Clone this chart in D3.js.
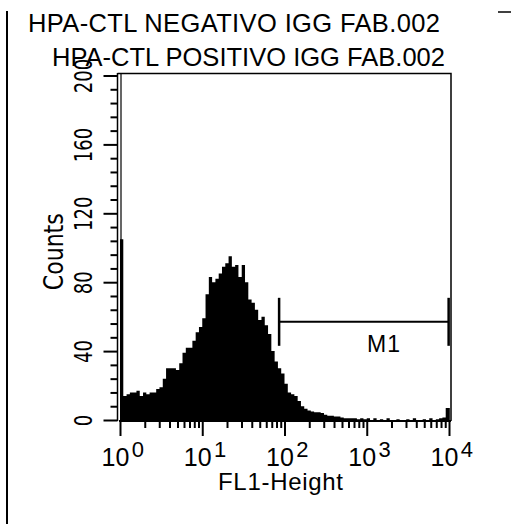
<!DOCTYPE html>
<html><head><meta charset="utf-8">
<script src="https://cdn.jsdelivr.net/npm/d3@7"></script>
<style>body{margin:0;background:#fff} svg{display:block}</style>
</head><body>
<script>
// ---- data ----
const titles = ["HPA-CTL NEGATIVO IGG FAB.002", "HPA-CTL POSITIVO IGG FAB.002"];
// counts per bin, 100 equal log-width bins from 10^0 to 10^4
const binCounts = [
 105,14,15,16,16,17,14,16,15,16,
 16,18,19,24,30,30,30,29,33,39,
 42,42,46,51,54,59,73,83,80,82,
 85,89,91,95,89,90,83,90,80,70,
 68,64,58,60,55,50,40,34,30,27,
 21,16,15,14,11,8,6.5,5.5,5,4.5,
 4.5,4,3,2.5,2.5,2,2,1.5,1,1,
 1,1,0.5,1,0.5,1,0,1,0,0.5,
 0,1,0,0,0.5,0,0,0.5,0,1,
 0,0,0.5,0,1,0,0.5,1,1.5,7
];
const decadeExponents = [0, 1, 2, 3, 4];
const countTicks = [0, 40, 80, 120, 160, 200];
const countMinorStep = 8;
const marker = {label: "M1", start: 86, end: 9900, level: 57};
const xLabel = "FL1-Height";
const yLabel = "Counts";

// ---- drawing ----
const W = 511, H = 524;
const svg = d3.select("body").append("svg").attr("width", W).attr("height", H);
const FONT = "'Liberation Sans', Arial, Helvetica, sans-serif";
const NARROW = "'Liberation Sans Narrow', 'Arial Narrow', 'DejaVu Sans Condensed', sans-serif";

const x = d3.scaleLog().domain([1, 1e4]).range([120, 449]);
const y = d3.scaleLinear().domain([0, 200]).range([420, 75.5]);

// outer page line and corner mark
svg.append("line").attr("x1", 7).attr("x2", 7).attr("y1", 11).attr("y2", H)
  .attr("stroke", "#000").attr("stroke-width", 2);
svg.append("line").attr("x1", 498).attr("x2", 511).attr("y1", 12).attr("y2", 12)
  .attr("stroke", "#000").attr("stroke-width", 1.5);

// titles
svg.append("text").attr("x", 28).attr("y", 32).text(titles[0])
  .attr("font-family", FONT).attr("font-size", 25.5).attr("textLength", 412).attr("fill", "#000");
svg.append("text").attr("x", 52).attr("y", 65.5).text(titles[1])
  .attr("font-family", FONT).attr("font-size", 25.5).attr("textLength", 393).attr("fill", "#000");

// histogram (step area)
const nb = binCounts.length;
const edge = i => Math.pow(10, 4 * i / nb);
const steps = binCounts.map((c, i) => ({e: edge(i), c}));
steps.push({e: Math.pow(10, 4.01), c: binCounts[nb - 1]});
svg.append("path").datum(steps)
  .attr("d", d3.area().x(d => x(d.e)).y0(y(0) + 1.5).y1(d => y(d.c)).curve(d3.curveStepAfter))
  .attr("fill", "#000");

// frame
svg.append("path")
  .attr("d", `M${117.5},${73.5}H${451}V${421}`)
  .attr("fill", "none").attr("stroke", "#000").attr("stroke-width", 1.5);
svg.append("line").attr("x1", 121).attr("x2", 121).attr("y1", 73.5).attr("y2", 421)
  .attr("stroke", "#000").attr("stroke-width", 1.2);
svg.append("line").attr("x1", 117.5).attr("x2", 117.5).attr("y1", 73).attr("y2", 421)
  .attr("stroke", "#000").attr("stroke-width", 1.5);
svg.append("line").attr("x1", 119).attr("x2", 451).attr("y1", 421).attr("y2", 421)
  .attr("stroke", "#000").attr("stroke-width", 2);

// y axis
const yMinor = d3.range(0, 201, countMinorStep).filter(v => !countTicks.includes(v));
const yMinorAxis = svg.append("g").attr("transform", "translate(117.5,0)")
  .call(d3.axisLeft(y).tickValues(yMinor).tickSize(7).tickFormat(""));
const yMajorAxis = svg.append("g").attr("transform", "translate(117.5,0)")
  .call(d3.axisLeft(y).tickValues(countTicks).tickSize(14).tickPadding(0).tickFormat(d3.format("d")));
[yMinorAxis, yMajorAxis].forEach(g => {
  g.select(".domain").remove();
  g.selectAll("line").attr("stroke", "#000").attr("stroke-width", 2);
});
yMajorAxis.selectAll("text")
  .attr("transform", "rotate(-90)")
  .attr("x", 0).attr("y", -25.5).attr("dy", 0)
  .attr("text-anchor", "middle")
  .attr("font-family", NARROW).attr("font-size", 25).attr("fill", "#000")
  .attr("textLength", d => String(d).length * 11.5)
  .attr("lengthAdjust", "spacingAndGlyphs");

svg.append("text").text(yLabel)
  .attr("transform", `translate(63,${(y(0) + y(200)) / 2 + 4}) rotate(-90)`)
  .attr("text-anchor", "middle")
  .attr("font-family", NARROW).attr("font-size", 26).attr("fill", "#000")
  .attr("textLength", 77).attr("lengthAdjust", "spacingAndGlyphs");

// x axis
const xMajor = decadeExponents.map(e => Math.pow(10, e));
const xMinor = [];
decadeExponents.slice(0, -1).forEach(e => { for (let k = 2; k <= 9; k++) xMinor.push(k * Math.pow(10, e)); });
const xMinorAxis = svg.append("g").attr("transform", "translate(0,421)")
  .call(d3.axisBottom(x).tickValues(xMinor).tickSize(7).tickFormat(""));
const xMajorAxis = svg.append("g").attr("transform", "translate(0,421)")
  .call(d3.axisBottom(x).tickValues(xMajor).tickSize(15).tickFormat(""));
[xMinorAxis, xMajorAxis].forEach(g => {
  g.select(".domain").remove();
  g.selectAll("line").attr("stroke", "#000").attr("stroke-width", 2);
});
const xl = svg.append("g").selectAll("text").data(decadeExponents).join("text")
  .attr("x", e => x(Math.pow(10, e)) - 18.5).attr("y", 465.5)
  .attr("font-family", FONT).attr("font-size", 25).attr("fill", "#000");
xl.append("tspan").text("10");
xl.append("tspan").attr("dx", 2.5).attr("dy", -9).attr("font-size", 22).text(e => e);

svg.append("text").text(xLabel)
  .attr("x", 280.5).attr("y", 490)
  .attr("text-anchor", "middle")
  .attr("font-family", FONT).attr("font-size", 24).attr("fill", "#000")
  .attr("textLength", 125);

// M1 marker
const mg = svg.append("g").attr("stroke", "#000").attr("stroke-width", 2);
const my = y(marker.level);
mg.append("line").attr("x1", x(marker.start)).attr("x2", x(marker.end)).attr("y1", my).attr("y2", my);
mg.append("line").attr("x1", x(marker.start)).attr("x2", x(marker.start)).attr("y1", my - 24).attr("y2", my + 24).attr("stroke-width", 2.5);
mg.append("line").attr("x1", x(marker.end)).attr("x2", x(marker.end)).attr("y1", my - 24).attr("y2", my + 24).attr("stroke-width", 2.5);
svg.append("text").text(marker.label)
  .attr("x", 383.5).attr("y", 352).attr("text-anchor", "middle")
  .attr("font-family", FONT).attr("font-size", 23).attr("fill", "#000")
  .attr("textLength", 33);
</script>
</body></html>
